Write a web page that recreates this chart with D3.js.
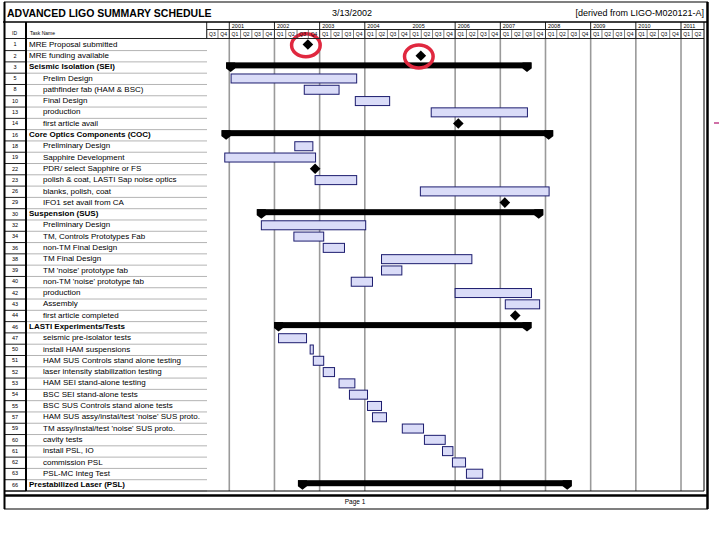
<!DOCTYPE html>
<meta charset="utf-8">
<title>Advanced LIGO Summary Schedule</title>
<style>
body { margin: 0; background: white; }
svg { font-family: "Liberation Sans", Arial, sans-serif; }
.grid { stroke: #9a9a9a; stroke-width: 1.6px; }
.bar { fill: #dadcf8; stroke: #1c1c6e; stroke-width: 1px; }
.summary { fill: black; }
.rowline { stroke: #b4b4b4; stroke-width: 1px; }
</style>
<body>
<script src="https://d3js.org/d3.v7.min.js"></script>
<script>

// schedule data, dates as fractional years
const taskIds = [1, 2, 3, 5, 8, 10, 13, 14, 16, 18, 19, 22, 23, 26, 29, 30, 32, 34, 36, 38,
  39, 40, 42, 43, 44, 46, 47, 50, 51, 52, 53, 54, 55, 57, 59, 60, 61, 62, 63, 66];
const taskNames = ["MRE Proposal submitted", "MRE funding available", "Seismic Isolation (SEI)",
  "Prelim Design", "pathfinder fab (HAM & BSC)", "Final Design", "production", "first article avail",
  "Core Optics Components (COC)", "Preliminary Design", "Sapphire Development", "PDR/ select Sapphire or FS",
  "polish & coat, LASTI Sap noise optics", "blanks, polish, coat", "IFO1 set avail from CA",
  "Suspension (SUS)", "Preliminary Design", "TM, Controls Prototypes Fab", "non-TM Final Design",
  "TM Final Design", "TM 'noise' prototype fab", "non-TM 'noise' prototype fab", "production", "Assembly",
  "first article completed", "LASTI Experiments/Tests", "seismic pre-isolator tests", "install HAM suspensions",
  "HAM SUS Controls stand alone testing", "laser intensity stabilization testing", "HAM SEI stand-alone testing",
  "BSC SEI stand-alone tests", "BSC SUS Controls stand alone tests", "HAM SUS assy/instal/test 'noise' SUS proto.",
  "TM assy/instal/test 'noise' SUS proto.", "cavity tests", "install PSL, IO", "commission PSL",
  "PSL-MC Integ Test", "Prestabilized Laser (PSL)"];
// m = milestone, s = summary, t = task
const taskKinds = ["m", "m", "s", "t", "t", "t", "t", "m", "s", "t", "t", "m", "t", "t", "m", "s", "t", "t", "t", "t",
  "t", "t", "t", "t", "m", "s", "t", "t", "t", "t", "t", "t", "t", "t", "t", "t", "t", "t", "t", "s"];
const taskLevels = [0, 0, 0, 1, 1, 1, 1, 1, 0, 1, 1, 1, 1, 1, 1, 0, 1, 1, 1, 1,
  1, 1, 1, 1, 1, 0, 1, 1, 1, 1, 1, 1, 1, 1, 1, 1, 1, 1, 1, 0];
const taskStarts = [2002.74, 2005.24, 2000.93, 2001.04, 2002.66, 2003.79, 2005.47, 2006.07, 2000.83, 2002.45,
  2000.90, 2002.90, 2002.90, 2005.23, 2007.10, 2001.61, 2001.71, 2002.43, 2003.08, 2004.37,
  2004.37, 2003.70, 2006.00, 2007.11, 2007.33, 2001.99, 2002.09, 2002.79, 2002.86, 2003.08,
  2003.43, 2003.66, 2004.06, 2004.17, 2004.83, 2005.32, 2005.72, 2005.94, 2006.25, 2002.52];
const taskEnds = [null, null, 2007.69, 2003.82, 2003.43, 2004.55, 2007.60, null, 2008.17, 2002.85,
  2002.91, null, 2003.82, 2008.08, null, 2007.95, 2004.02, 2003.09, 2003.55, 2006.37,
  2004.82, 2004.17, 2007.69, 2007.87, null, 2007.69, 2002.71, 2002.86, 2003.09, 2003.33,
  2003.78, 2004.06, 2004.37, 2004.48, 2005.30, 2005.78, 2005.95, 2006.23, 2006.61, 2008.58];
const circledIds = [1, 2];

const years = [2001, 2002, 2003, 2004, 2005, 2006, 2007, 2008, 2009, 2010, 2011];
const gridYears = [2001, 2002, 2003, 2004, 2006, 2007, 2008, 2009, 2010, 2011];
const quarterStarts = d3.range(2000.5, 2011.5, 0.25);

const titleText = "ADVANCED LIGO SUMMARY SCHEDULE";
const dateText = "3/13/2002";
const sourceText = "[derived from LIGO-M020121-A]";

const width = 720, height = 540;
const rows = taskIds.map((id, i) => ({
  id: id, name: taskNames[i], kind: taskKinds[i], level: taskLevels[i],
  start: taskStarts[i], end: taskEnds[i]
}));

const svg = d3.select("body").append("svg")
  .attr("width", width)
  .attr("height", height);

const x = d3.scaleLinear().domain([2000.5, 2011.5]).range([206.7, 703.6]);
const y = d3.scaleBand().domain(taskIds).range([39.3, 491]);
const bw = y.bandwidth();

// vertical year gridlines
svg.selectAll(".grid")
  .data(gridYears)
  .enter().append("line")
  .attr("class", "grid")
  .attr("x1", d => x(d)).attr("x2", d => x(d))
  .attr("y1", 38).attr("y2", 491);

// row separators
svg.selectAll(".rowline")
  .data(taskIds)
  .enter().append("line")
  .attr("class", "rowline")
  .attr("x1", 26).attr("x2", 207)
  .attr("y1", d => y(d) + bw).attr("y2", d => y(d) + bw);
svg.selectAll(".idline")
  .data(taskIds)
  .enter().append("line")
  .attr("x1", 4).attr("x2", 26)
  .attr("y1", d => y(d) + bw).attr("y2", d => y(d) + bw)
  .attr("stroke", "#222").attr("stroke-width", 1);

// ids and names
svg.selectAll(".idtext")
  .data(rows)
  .enter().append("text")
  .attr("x", 15).attr("y", d => y(d.id) + 7)
  .attr("text-anchor", "middle")
  .style("font-size", "5.5px")
  .text(d => d.id);

svg.selectAll(".name")
  .data(rows)
  .enter().append("text")
  .attr("x", d => d.level == 0 ? 29 : 43)
  .attr("y", d => y(d.id) + 7.4)
  .style("font-size", "8px")
  .style("font-weight", d => d.kind == "s" ? "bold" : "normal")
  .text(d => d.name);

// task bars
const tasks = rows.filter(d => d.kind == "t");
svg.selectAll(".bar")
  .data(tasks)
  .enter().append("rect")
  .attr("class", "bar")
  .attr("x", d => x(d.start))
  .attr("y", d => y(d.id) + 0.8)
  .attr("width", d => x(d.end) - x(d.start))
  .attr("height", 9);

// summary bars with end caps
const sums = rows.filter(d => d.kind == "s");
svg.selectAll(".summary")
  .data(sums)
  .enter().append("rect")
  .attr("class", "summary")
  .attr("x", d => x(d.start))
  .attr("y", d => y(d.id) + 0.5)
  .attr("width", d => x(d.end) - x(d.start))
  .attr("height", 6);

function cap(x0, top) {
  const w = 9;
  return [[x0, top], [x0 + w, top], [x0 + w, top + 6], [x0 + w / 2, top + 9.5], [x0, top + 6]];
}
sums.forEach(function(d) {
  const top = y(d.id) + 0.5;
  [cap(x(d.start), top), cap(x(d.end) - 9, top)].forEach(function(p) {
    svg.append("polygon").attr("points", p.join(" ")).attr("fill", "black");
  });
});

// milestones
const miles = rows.filter(d => d.kind == "m");
svg.selectAll(".mile")
  .data(miles)
  .enter().append("path")
  .attr("d", d3.symbol().type(d3.symbolDiamond2).size(72))
  .attr("transform", d => "translate(" + x(d.start) + "," + (y(d.id) + 5.2) + ")")
  .attr("fill", "black");

// red circles on the MRE milestones
svg.selectAll(".ring")
  .data(miles.filter(d => circledIds.includes(d.id)))
  .enter().append("ellipse")
  .attr("cx", d => x(d.start) - 2)
  .attr("cy", d => y(d.id) + 6)
  .attr("rx", 14.3).attr("ry", 11.5)
  .attr("fill", "none")
  .attr("stroke", "#e0283f")
  .attr("stroke-width", 3.5);

// header: years and quarters
svg.selectAll(".yearsep")
  .data(gridYears.concat([2000.5]))
  .enter().append("line")
  .attr("x1", d => x(d)).attr("x2", d => x(d))
  .attr("y1", 22).attr("y2", 38)
  .attr("stroke", "#222").attr("stroke-width", 1);
svg.selectAll(".qsep")
  .data(quarterStarts)
  .enter().append("line")
  .attr("x1", d => x(d)).attr("x2", d => x(d))
  .attr("y1", 29.5).attr("y2", 38)
  .attr("stroke", "#444").attr("stroke-width", 0.7);
svg.selectAll(".year")
  .data(years)
  .enter().append("text")
  .attr("x", d => x(d) + 2.5).attr("y", 27.8)
  .style("font-size", "5.5px")
  .text(d => d);
svg.selectAll(".qtr")
  .data(quarterStarts)
  .enter().append("text")
  .attr("x", d => x(d + 0.125)).attr("y", 35.5)
  .attr("text-anchor", "middle")
  .style("font-size", "5px")
  .text(d => "Q" + (Math.round((d % 1) * 4) + 1));

svg.append("line").attr("x1", 207).attr("x2", 704).attr("y1", 29.5).attr("y2", 29.5)
  .attr("stroke", "#222").attr("stroke-width", 1);
svg.append("line").attr("x1", 4).attr("x2", 704).attr("y1", 38.5).attr("y2", 38.5)
  .attr("stroke", "#222").attr("stroke-width", 1);
svg.append("line").attr("x1", 3).attr("x2", 708).attr("y1", 22).attr("y2", 22)
  .attr("stroke", "black").attr("stroke-width", 1.5);
svg.append("text").attr("x", 12).attr("y", 35).style("font-size", "5px").text("ID");
svg.append("text").attr("x", 30).attr("y", 35).style("font-size", "5px").text("Task Name");

// column borders and frame
svg.append("line").attr("x1", 26).attr("x2", 26).attr("y1", 22).attr("y2", 491)
  .attr("stroke", "black").attr("stroke-width", 2);
svg.append("line").attr("x1", 4.5).attr("x2", 4.5).attr("y1", 2).attr("y2", 509)
  .attr("stroke", "black").attr("stroke-width", 2);
svg.append("line").attr("x1", 704).attr("x2", 704).attr("y1", 22).attr("y2", 491)
  .attr("stroke", "black").attr("stroke-width", 1);
svg.append("line").attr("x1", 707.5).attr("x2", 707.5).attr("y1", 2).attr("y2", 509)
  .attr("stroke", "black").attr("stroke-width", 2.5);
svg.append("line").attr("x1", 4).attr("x2", 704).attr("y1", 491).attr("y2", 491)
  .attr("stroke", "black").attr("stroke-width", 1);
svg.append("line").attr("x1", 4).attr("x2", 708).attr("y1", 495.5).attr("y2", 495.5)
  .attr("stroke", "black").attr("stroke-width", 2.5);
svg.append("line").attr("x1", 4).attr("x2", 708).attr("y1", 509).attr("y2", 509)
  .attr("stroke", "black").attr("stroke-width", 1.2);
svg.append("line").attr("x1", 4).attr("x2", 708).attr("y1", 2).attr("y2", 2)
  .attr("stroke", "black").attr("stroke-width", 1.2);

// title texts
svg.append("text").attr("x", 7).attr("y", 16.5)
  .style("font-size", "10.5px").style("font-weight", "bold").text(titleText);
svg.append("text").attr("x", 332).attr("y", 16)
  .style("font-size", "9px").text(dateText);
svg.append("text").attr("x", 704).attr("y", 16).attr("text-anchor", "end")
  .style("font-size", "9px").text(sourceText);
svg.append("text").attr("x", 355).attr("y", 504).attr("text-anchor", "middle")
  .style("font-size", "6.5px").text("Page 1");

// stray magenta mark at right margin
svg.append("line").attr("x1", 714).attr("x2", 719).attr("y1", 123).attr("y2", 123)
  .attr("stroke", "#c0408a").attr("stroke-width", 1.5);

</script>
</body>
